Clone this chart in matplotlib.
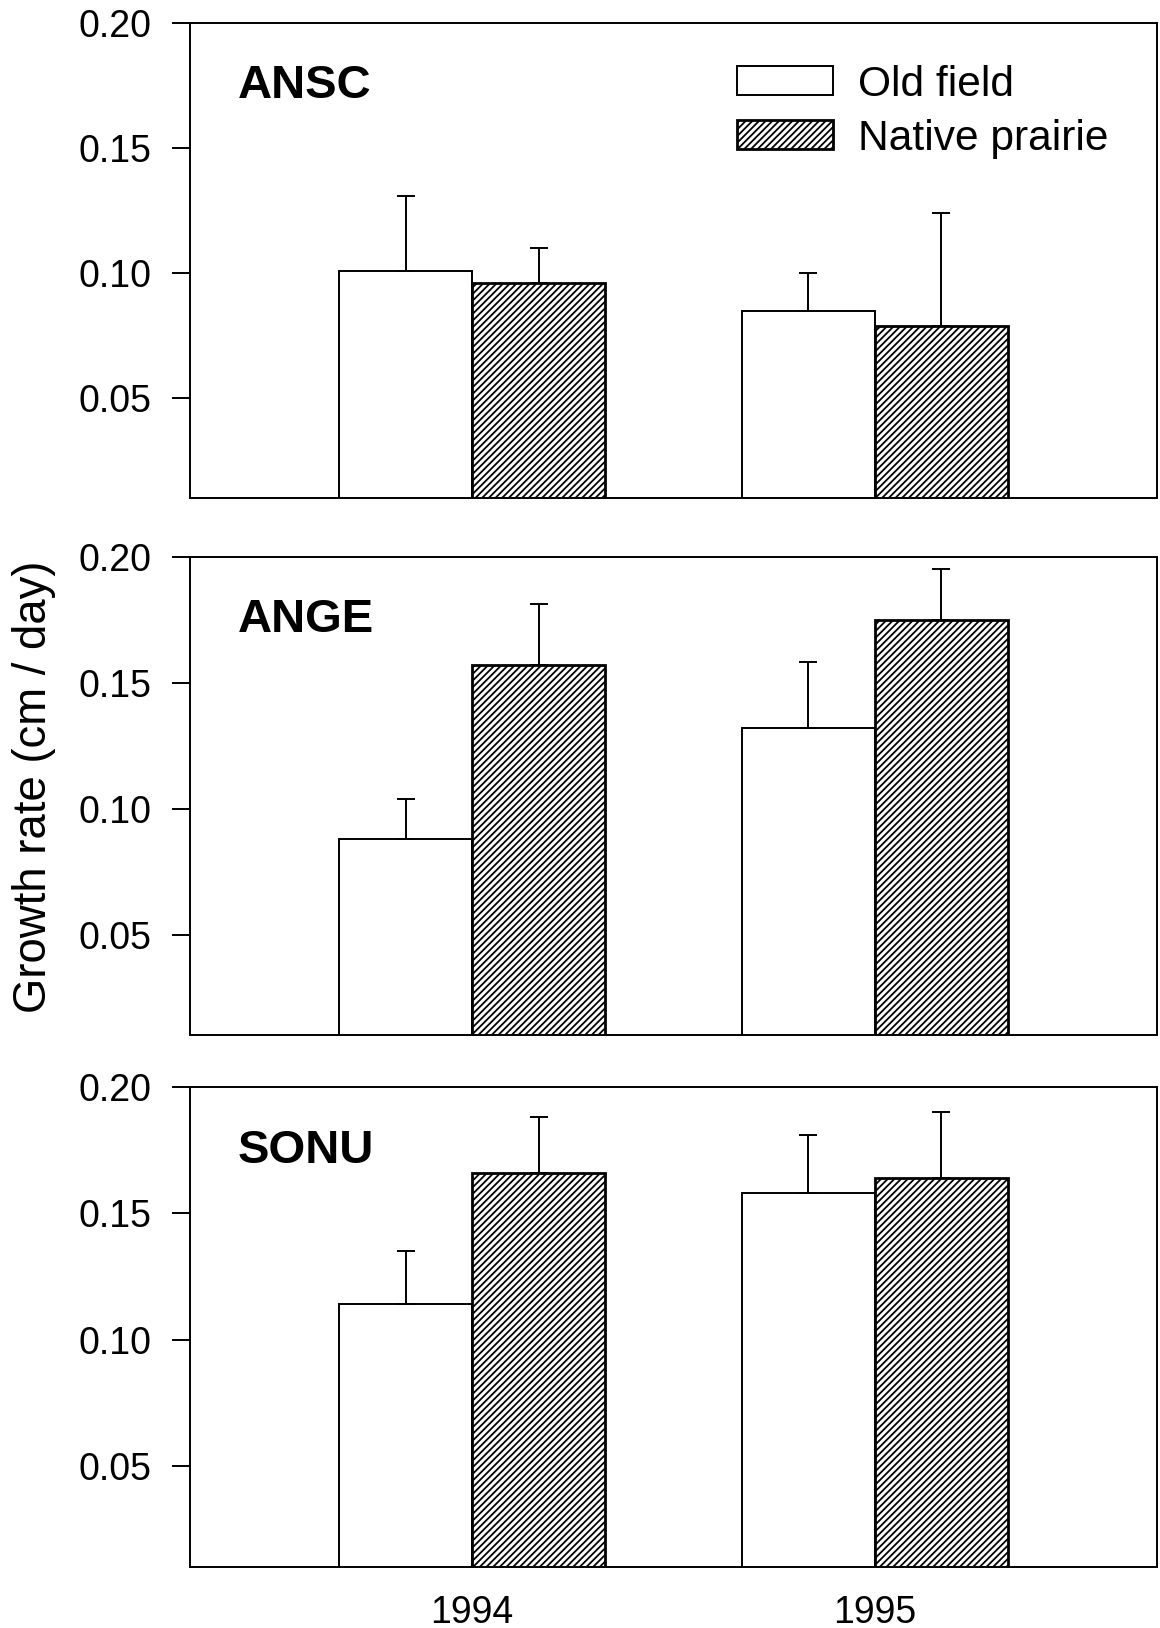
import numpy as np
import matplotlib
matplotlib.use("Agg")
import matplotlib.pyplot as plt
from matplotlib.patches import Patch

plt.rcParams["font.family"] = ["Liberation Sans", "DejaVu Sans"]
plt.rcParams["hatch.linewidth"] = 0.65

years = ["1994", "1995"]
species = ["ANSC", "ANGE", "SONU"]

# mean growth rate (cm / day)
old_field = [[0.101, 0.085], [0.088, 0.132], [0.114, 0.158]]
native_prairie = [[0.096, 0.079], [0.157, 0.175], [0.166, 0.164]]
# upper error bars
old_field_err = [[0.030, 0.015], [0.016, 0.026], [0.021, 0.023]]
native_prairie_err = [[0.014, 0.045], [0.024, 0.020], [0.022, 0.026]]

yticks = [0.05, 0.10, 0.15, 0.20]
hatch = "/" * 10

fig = plt.figure(figsize=(5.8, 8.14), dpi=200)

# axes boxes [left, bottom, width, height] in figure fractions
boxes = [
    [0.1638, 0.6938, 0.8336, 0.2922],
    [0.1638, 0.3640, 0.8336, 0.2941],
    [0.1638, 0.0375, 0.8336, 0.2947],
]

x = np.arange(len(years))
w = 0.33
lw = 0.7

for i, name in enumerate(species):
    ax = fig.add_axes(boxes[i])
    ax.bar(x - w / 2, old_field[i], width=w, color="white",
           edgecolor="black", linewidth=lw)
    ax.bar(x + w / 2, native_prairie[i], width=w, color="white",
           edgecolor="black", linewidth=1.0, hatch=hatch)
    ax.errorbar(x - w / 2, old_field[i],
                yerr=[np.zeros(len(years)), old_field_err[i]],
                fmt="none", ecolor="black", elinewidth=lw,
                capsize=3.3, capthick=lw)
    ax.errorbar(x + w / 2, native_prairie[i],
                yerr=[np.zeros(len(years)), native_prairie_err[i]],
                fmt="none", ecolor="black", elinewidth=lw,
                capsize=3.3, capthick=lw)

    ax.set_xlim(-0.7, 1.7)
    ax.set_ylim(0.01, 0.20)
    ax.set_yticks(yticks)
    ax.set_yticklabels(["%.2f" % t for t in yticks])
    ax.tick_params(axis="y", direction="out", length=6.5, width=lw,
                   pad=7.5, labelsize=13.5)
    for s in ax.spines.values():
        s.set_linewidth(lw)

    if i == 2:
        ax.set_xticks(x)
        ax.set_xticklabels(years)
        ax.tick_params(axis="x", length=0, pad=10, labelsize=13.5)
    else:
        ax.set_xticks([])

    ax.text(0.049, 0.867, name, transform=ax.transAxes, fontsize=17,
            fontweight="bold", ha="left", va="center")

    if i == 0:
        handles = [
            Patch(facecolor="white", edgecolor="black", linewidth=lw),
            Patch(facecolor="white", edgecolor="black", linewidth=1.0,
                  hatch=hatch),
        ]
        ax.legend(handles, ["Old field", "Native prairie"],
                  loc="upper left", bbox_to_anchor=(0.566, 0.912),
                  frameon=False, fontsize=15.3, borderpad=0,
                  borderaxespad=0, handlelength=2.25, handleheight=0.68,
                  handletextpad=0.59, labelspacing=0.33)

fig.text(0.029, 0.517, "Growth rate (cm / day)", rotation=90,
         fontsize=16.4, ha="center", va="center")

fig.savefig("out.png", dpi=200)
